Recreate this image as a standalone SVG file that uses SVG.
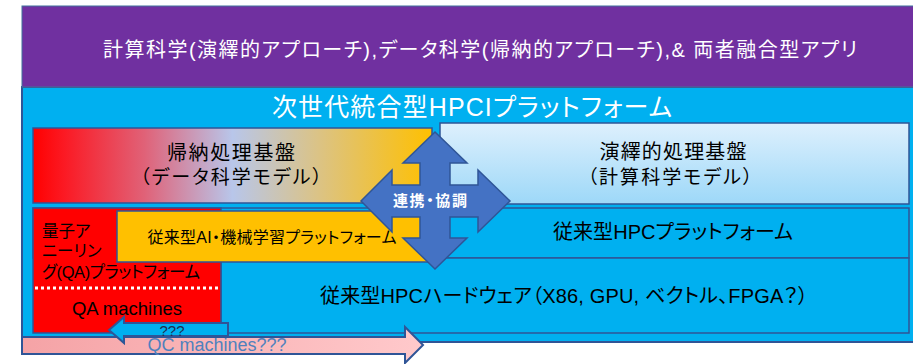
<svg xmlns="http://www.w3.org/2000/svg" width="913" height="364" viewBox="0 0 913 364">
<defs>
<linearGradient id="gLeft" x1="0" y1="0" x2="1" y2="0">
<stop offset="0" stop-color="#ff0000"/>
<stop offset="0.08" stop-color="#fb1a24"/>
<stop offset="0.28" stop-color="#e06278"/>
<stop offset="0.5" stop-color="#b8c6ea"/>
<stop offset="0.72" stop-color="#dcc383"/>
<stop offset="1" stop-color="#ffc000"/>
</linearGradient>
<linearGradient id="gRight" x1="0" y1="0" x2="0" y2="1">
<stop offset="0" stop-color="#def0fd"/>
<stop offset="1" stop-color="#9dd8f8"/>
</linearGradient>
<linearGradient id="gPink" x1="0" y1="0" x2="1" y2="0">
<stop offset="0" stop-color="#f5a3a6"/>
<stop offset="1" stop-color="#ffc9cb"/>
</linearGradient>
<style>
.box{stroke:#2f5597;stroke-width:1.5}
.t{font-family:"Liberation Sans","Noto Sans CJK JP","Noto Sans",sans-serif;font-feature-settings:"palt";fill:#000}
.c{text-anchor:middle}
.w{fill:#fff}
</style>
</defs>

<g id="background">
<rect x="22" y="87" width="895" height="255" fill="#00b0f0" stroke="#2f5597" stroke-width="2"/>
</g>

<g id="apps">
<rect x="22" y="6" width="895" height="81" fill="#7030a0" stroke="#41719c" stroke-width="1"/>
<text class="t c w" x="480" y="57" font-size="20" textLength="754">計算科学(演繹的アプローチ),データ科学(帰納的アプローチ),&amp; 両者融合型アプリ</text>
</g>

<g id="title">
<text class="t c w" x="472" y="116" font-size="25" textLength="400">次世代統合型HPCIプラットフォーム</text>
</g>

<g id="deductive">
<rect class="box" x="440" y="123" width="469" height="81" fill="url(#gRight)"/>
<text class="t c" x="673" y="159" font-size="20" textLength="147">演繹的処理基盤</text>
<text class="t c" x="670" y="184" font-size="19" textLength="165">（計算科学モデル）</text>
</g>

<g id="hpc-platform">
<rect class="box" x="33" y="208" width="876" height="50" fill="#00b0f0"/>
<text class="t c" x="673" y="239" font-size="20" textLength="240">従来型HPCプラットフォーム</text>
</g>

<g id="hpc-hardware">
<rect class="box" x="221" y="258" width="688" height="75" fill="#00b0f0"/>
<text class="t c" x="564" y="303" font-size="20" textLength="488">従来型HPCハードウェア（X86, GPU, ベクトル、FPGA？）</text>
</g>

<g id="inductive">
<rect class="box" x="33" y="128" width="399" height="75" fill="url(#gLeft)"/>
<text class="t c" x="231" y="160" font-size="20" textLength="128">帰納処理基盤</text>
<text class="t c" x="231" y="184" font-size="19" textLength="182">（データ科学モデル）</text>
</g>

<g id="qa-platform">
<rect class="box" x="33" y="208" width="188" height="125" fill="#ff0000"/>
<text class="t" x="42" y="237" font-size="16.5">量子ア</text>
<text class="t" x="42" y="257" font-size="16.5">ニーリン</text>
<text class="t" x="42" y="278" font-size="16.5" textLength="158">グ(QA)プラットフォーム</text>
<line x1="35" y1="288" x2="220" y2="288" stroke="#ffffff" stroke-width="3" stroke-dasharray="3 3"/>
<text class="t c" x="127" y="315" font-size="18.5">QA machines</text>
</g>

<g id="ai-platform">
<rect class="box" x="117" y="211" width="315" height="51" fill="#ffc000"/>
<text class="t c" x="272" y="243" font-size="16" textLength="249">従来型AI・機械学習プラットフォーム</text>
</g>

<g id="connectors">
<g id="collaboration">
<path d="M435,132 L467,163 L450,163 L450,185 L478,185 L478,170 L510,201 L478,232 L478,217 L450,217 L450,238 L467,238 L435,269 L403,238 L420,238 L420,217 L392,217 L392,232 L361,201 L392,170 L392,185 L420,185 L420,163 L403,163 Z" fill="#4472c4" stroke="#2f5597" stroke-width="1.5"/>
<text class="t c w" x="430" y="206" font-size="15" font-weight="bold" textLength="74">連携・協調</text>
</g>
<g id="qc-arrow">
<path d="M22,337 L405,337 L405,327 L423,345 L405,363 L405,354 L22,354 Z" fill="url(#gPink)" stroke="#2f5597" stroke-width="2"/>
<text class="t c" x="217" y="351" font-size="18" style="fill:#4f81bd">QC machines???</text>
</g>
<g id="qa-arrow">
<path d="M109,330 L124,317 L124,323 L228,323 L228,336 L124,336 L124,343 Z" fill="#00b0f0" stroke="#2f5597" stroke-width="2"/>
<text class="t c" x="172" y="336" font-size="15" style="fill:#1f2d4f">???</text>
</g>
</g>
</svg>
